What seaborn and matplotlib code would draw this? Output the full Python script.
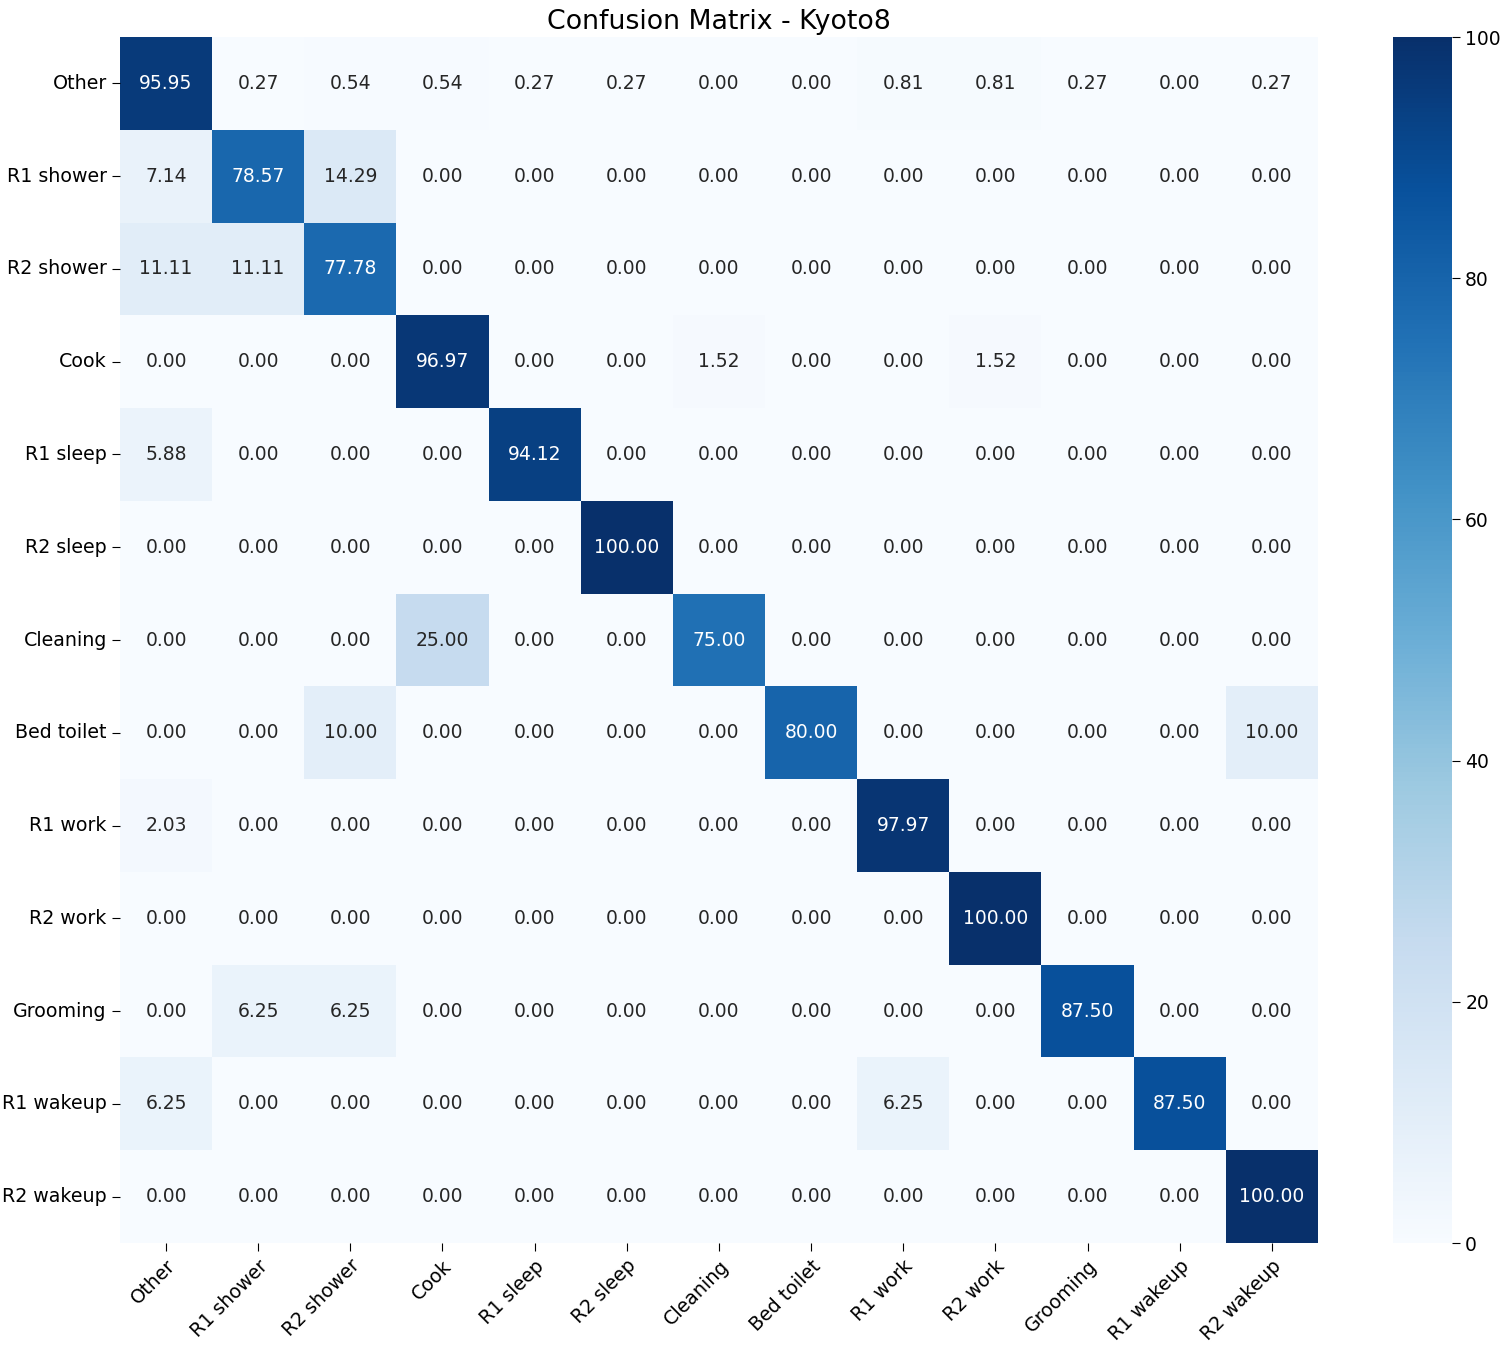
import numpy as np
import pandas as pd
import seaborn as sns
import matplotlib.pyplot as plt

# Klasse-Namen
labels = ['Other', 'R1 shower', 'R2 shower', 'Cook', 'R1 sleep', 'R2 sleep', 'Cleaning',
          'Bed toilet', 'R1 work', 'R2 work', 'Grooming', 'R1 wakeup', 'R2 wakeup']

# Zeilenweise Prozentwerte
row_other = [95.95, 0.27, 0.54, 0.54, 0.27, 0.27, 0.00, 0.00, 0.81, 0.81, 0.27, 0.00, 0.27]
row_r1_shower = [7.14, 78.57, 14.29, 0, 0, 0, 0, 0, 0, 0, 0, 0, 0]
row_r2_shower = [11.11, 11.11, 77.78, 0, 0, 0, 0, 0, 0, 0, 0, 0, 0]
row_cook = [0, 0, 0, 96.97, 0, 0, 1.52, 0, 0, 1.52, 0, 0, 0]
row_r1_sleep = [5.88, 0, 0, 0, 94.12, 0, 0, 0, 0, 0, 0, 0, 0]
row_r2_sleep = [0, 0, 0, 0, 0, 100.00, 0, 0, 0, 0, 0, 0, 0]
row_cleaning = [0, 0, 0, 25.00, 0, 0, 75.00, 0, 0, 0, 0, 0, 0]
row_bed_toilet = [0, 0, 10.00, 0, 0, 0, 0, 80.00, 0, 0, 0, 0, 10.00]
row_r1_work = [2.03, 0, 0, 0, 0, 0, 0, 0, 97.97, 0, 0, 0, 0]
row_r2_work = [0, 0, 0, 0, 0, 0, 0, 0, 0, 100.00, 0, 0, 0]
row_grooming = [0, 6.25, 6.25, 0, 0, 0, 0, 0, 0, 0, 87.50, 0, 0]
row_r1_wakeup = [6.25, 0, 0, 0, 0, 0, 0, 0, 6.25, 0, 0, 87.50, 0]
row_r2_wakeup = [0, 0, 0, 0, 0, 0, 0, 0, 0, 0, 0, 0, 100.00]

cm = np.array([row_other, row_r1_shower, row_r2_shower, row_cook, row_r1_sleep,
               row_r2_sleep, row_cleaning, row_bed_toilet, row_r1_work, row_r2_work,
               row_grooming, row_r1_wakeup, row_r2_wakeup])
df_cm = pd.DataFrame(cm, index=labels, columns=labels)

fig = plt.figure(figsize=(15.05, 13.47), dpi=100)
ax = fig.add_axes([0.0797, 0.0772, 0.796, 0.8953])
cax = fig.add_axes([0.9256, 0.0772, 0.0392, 0.8953])

sns.heatmap(df_cm, annot=True, fmt='.2f', cmap='Blues', vmin=0, vmax=100,
            ax=ax, cbar_ax=cax, annot_kws={'fontsize': 13.5})

ax.set_title('Confusion Matrix - Kyoto8', fontsize=19.3, pad=6)
ax.set_xticklabels(labels, rotation=45, ha='right', rotation_mode='anchor', fontsize=13.7)
ax.set_yticklabels(labels, rotation=0, fontsize=13.7)
ax.tick_params(axis='both', length=6)
cax.tick_params(labelsize=13.5, length=6)

fig.savefig('out.png', dpi=100)
